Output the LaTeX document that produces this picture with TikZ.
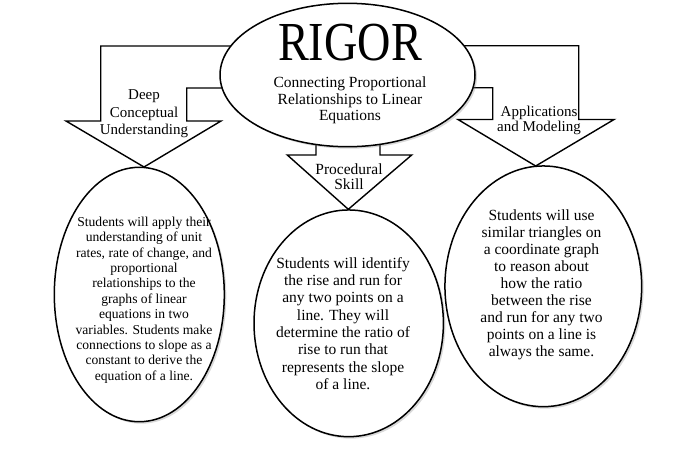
\documentclass[tikz,border=0pt]{standalone}
\usepackage{fontspec}
\setmainfont{Liberation Serif}
\usepackage{graphicx}
\usetikzlibrary{shapes.geometric,shadows}

\begin{document}
\begin{tikzpicture}[x = 1pt, y = -1pt,
	bubble/.style = {ellipse, draw, line width = 1.5pt, fill = white, inner sep = 0pt,
		drop shadow = {shadow xshift = 2pt, shadow yshift = -2pt, opacity = 0.3}},
	blockarrow/.style = {draw, line width = 1.4pt, fill = white, line join = miter},
	bodytext/.style = {align = center, inner sep = 0pt}]
	%	page setup
	\useasboundingbox (0, 0) rectangle (692, 453);
	
	%	block arrows
	\draw[blockarrow] (260, 46) -- (100.7, 46) -- (100.7, 121) -- (66, 121) -- (144, 167)
		-- (221, 121) -- (186.7, 121) -- (186.7, 88) -- (260, 88) -- cycle;
	\draw[blockarrow] (440, 45.7) -- (578.7, 45.7) -- (578.7, 119.5) -- (614, 119.5) -- (535.7, 166)
		-- (458, 119.5) -- (492.7, 119.5) -- (492.7, 87.7) -- (440, 87.7) -- cycle;
	\draw[blockarrow] (316, 130) -- (316, 155) -- (287.3, 155) -- (348.3, 209.3)
		-- (411.7, 155) -- (380, 155) -- (380, 130) -- cycle;
	
	%	ellipses
	\node[bubble, minimum width = 255, minimum height = 143.4] (rigor) at (347.5, 75) {};
	\node[bubble, minimum width = 170, minimum height = 254.4] (deep) at (139.3, 294.5) {};
	\node[bubble, minimum width = 189.4, minimum height = 226.7] (procedural) at (348.7, 323.3) {};
	\node[bubble, minimum width = 196.7, minimum height = 240.7] (applications) at (543.3, 286.3) {};
	
	%	title
	\node[anchor = base, inner sep = 0pt, font = \fontsize{55}{60}\selectfont] (title) at (350, 60)
		{\scalebox{0.84}[1]{RIGOR}};
	\node[bodytext, font = \fontsize{15.5}{16.7}\selectfont] (subtitle) at (350, 100.4)
		{Connecting Proportional\\ Relationships to Linear\\ Equations};
	
	%	arrow labels
	\node[bodytext, font = \fontsize{15}{17.5}\selectfont] (deeplabel) at (144, 114.2)
		{Deep\\ Conceptual\\ Understanding};
	\node[bodytext, font = \fontsize{15.5}{15.3}\selectfont] (proclabel) at (349, 176.4)
		{Procedural\\ Skill};
	\node[bodytext, font = \fontsize{15}{15.7}\selectfont] (applabel) at (539, 120.4)
		{Applications\\ and Modeling};
	
	%	ellipse texts
	\node[bodytext, font = \fontsize{13.6}{15.4}\selectfont] (deeptext) at (144, 300)
		{Students will apply their\\ understanding of unit\\ rates, rate of change, and\\ proportional\\
		relationships to the\\ graphs of linear\\ equations in two\\ variables. Students make\\
		connections to slope as a\\ constant to derive the\\ equation of a line.};
	\node[bodytext, font = \fontsize{15.5}{17.3}\selectfont] (proctext) at (343, 323.5)
		{Students will identify\\ the rise and run for\\ any two points on a\\ line. They will\\
		determine the ratio of\\ rise to run that\\ represents the slope\\ of a line.};
	\node[bodytext, font = \fontsize{15.5}{17.1}\selectfont] (apptext) at (541.5, 284.7)
		{Students will use\\ similar triangles on\\ a coordinate graph\\ to reason about\\
		how the ratio\\ between the rise\\ and run for any two\\ points on a line is\\ always the same.};
\end{tikzpicture}
\end{document}
